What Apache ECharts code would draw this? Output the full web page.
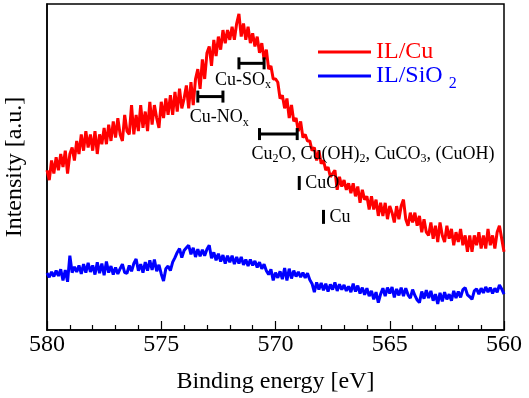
<!DOCTYPE html>
<html>
<head>
<meta charset="utf-8">
<script src="https://cdn.jsdelivr.net/npm/echarts@6/dist/echarts.min.js"></script>
<style>
  html, body { margin: 0; padding: 0; background: #fff; }
  #main { width: 529px; height: 398px; }
</style>
</head>
<body>
<div id="main"></div>
<script>
// spectra sampled every 0.1 eV from 580.0 down to 560.0 (arbitrary units)
const ilCu = [
  49, 46, 52, 48, 53, 49, 54, 50, 55, 48, 54,
  56, 52, 58, 54, 60, 55, 61, 56, 60, 55,
  61, 54, 60, 57, 62, 57, 63, 58, 64, 59,
  65, 60, 58, 66, 61, 60, 69, 60, 66, 61,
  69, 62, 67, 61, 70, 63, 69, 65, 62, 70,
  65, 71, 66, 72, 66, 73, 67, 74, 68, 71,
  75, 68, 76, 69, 77, 80, 74, 83, 77, 85,
  87, 81, 89, 84, 90, 86, 92, 88, 92, 89,
  93, 89, 94, 97, 90, 94, 89, 93, 88, 91,
  87, 90, 85, 88, 83, 86, 80, 81, 77, 77,
  76, 71, 72, 68, 71, 65, 69, 64, 65, 61,
  64, 59, 60, 58, 58, 55, 56, 52, 55, 51,
  52, 49, 50, 47, 48, 49, 43, 47, 44, 46,
  43, 45, 42, 45, 41, 44, 39, 43, 40, 41,
  37, 41, 37, 40, 35, 39, 35, 39, 34, 38,
  36, 33, 38, 34, 38, 40, 34, 32, 36, 33,
  36, 32, 35, 30, 34, 30, 29, 33, 28, 32,
  27, 33, 29, 27, 32, 28, 31, 26, 30, 27,
  31, 26, 29, 24, 29, 24, 29, 26, 30, 25,
  29, 25, 31, 26, 29, 25, 30, 32, 28, 24
]
const ilSiO2 = [
  17.5, 16.2, 17.8, 16.4, 18.2, 16.6, 18.6, 15.2, 18.4, 14.8,
  22.8, 17.6, 19.4, 17.8, 19.8, 17.2, 20.2, 17.6, 20.6, 17.8,
  19.8, 17.0, 20.8, 17.4, 20.4, 16.8, 21.0, 17.6, 19.6, 17.0,
  19.2, 17.2, 18.8, 20.2, 17.6, 17.4, 19.8, 18.0, 20.4, 21.8,
  18.2, 20.2, 17.6, 20.8, 18.2, 21.4, 18.4, 21.6, 18.0, 20.0,
  17.2, 15.0, 18.8, 19.6, 18.2, 20.8, 22.2, 23.8, 25.0, 22.2,
  24.4, 25.2, 26.0, 23.2, 25.2, 22.4, 24.8, 22.6, 24.6, 22.8,
  24.8, 26.0, 22.0, 23.8, 21.4, 23.4, 21.0, 23.0, 20.4, 22.8,
  20.8, 22.8, 20.2, 22.4, 20.4, 22.4, 20.0, 21.6, 19.6, 21.6,
  19.8, 21.2, 19.2, 20.8, 18.8, 20.2, 18.2, 17.0, 18.6, 15.2,
  17.6, 16.0, 18.0, 15.6, 19.0, 15.2, 18.8, 15.8, 18.2, 16.4,
  17.8, 16.2, 17.6, 16.0, 17.4, 15.4, 14.2, 11.6, 14.6, 12.4,
  14.4, 12.2, 14.2, 11.8, 14.0, 12.4, 14.6, 12.0, 14.0, 12.4,
  13.8, 12.0, 13.4, 11.6, 14.2, 11.8, 13.6, 11.2, 13.0, 10.8,
  12.8, 10.4, 12.0, 9.4, 11.6, 8.4, 11.0, 12.8, 10.4, 13.0,
  11.2, 13.2, 10.0, 12.6, 10.6, 13.0, 10.4, 12.8, 10.8, 9.8,
  12.4, 10.6, 9.2, 8.4, 11.8, 9.6, 12.2, 9.8, 12.0, 9.0,
  11.0, 8.0, 11.4, 8.8, 11.6, 9.4, 11.0, 9.0, 12.0, 9.8,
  11.8, 10.0, 12.4, 13.0, 10.8, 10.2, 9.4, 12.0, 12.6, 11.0,
  12.8, 11.4, 13.2, 11.6, 13.0, 11.2, 12.8, 11.6, 13.8, 12.6,
  11.0
]
const energy = ilCu.map((_, i) => +(580 - i * 0.1).toFixed(1))

// peak assignments: energy range (high/low side) and height of the marker
const annoLabels = ['Cu-SO{s|x}', 'Cu-NO{s|x}', 'Cu{s|2}O, Cu(OH){s|2}, CuCO{s|3}, (CuOH)', 'CuO', 'Cu']
const annoFrom = [571.6, 573.4, 570.7, 568.96, 567.9]
const annoTo = [570.5, 572.3, 569.05, 568.96, 567.9]
const annoY = [81.8, 71.6, 60.1, 45.1, 34.7]

const xTicks = [560, 565, 570, 575, 580]

const font = 'Liberation Serif, Times New Roman, serif'
const labelOffsets = [[-24, 17], [-8, 21], [-8, 20], [6, 0], [6, 0]]

function renderAnno(params, api) {
  const i = params.dataIndex
  const a = api.coord([api.value(0), api.value(2)])
  const b = api.coord([api.value(1), api.value(2)])
  const children = []
  const stroke = { stroke: '#000', lineWidth: 3 }
  if (Math.abs(a[0] - b[0]) > 1) {
    const l = Math.min(a[0], b[0])
    const r = Math.max(a[0], b[0])
    children.push({ type: 'line', shape: { x1: l, y1: a[1], x2: r, y2: a[1] }, style: stroke })
    children.push({ type: 'line', shape: { x1: l, y1: a[1] - 6, x2: l, y2: a[1] + 6 }, style: stroke })
    children.push({ type: 'line', shape: { x1: r, y1: a[1] - 6, x2: r, y2: a[1] + 6 }, style: stroke })
    children.push({
      type: 'text',
      style: {
        x: l + labelOffsets[i][0], y: a[1] + labelOffsets[i][1],
        text: annoLabels[i], align: 'left', verticalAlign: 'middle',
        fontFamily: font, fontSize: 18, fill: '#000', lineHeight: 22,
        rich: { s: { fontFamily: font, fontSize: 12, fill: '#000', verticalAlign: 'bottom' } }
      }
    })
  } else {
    children.push({ type: 'line', shape: { x1: a[0], y1: a[1] - 7, x2: a[0], y2: a[1] + 7 }, style: stroke })
    children.push({
      type: 'text',
      style: {
        x: a[0] + labelOffsets[i][0], y: a[1] + labelOffsets[i][1],
        text: annoLabels[i], align: 'left', verticalAlign: 'middle',
        fontFamily: font, fontSize: 18, fill: '#000'
      }
    })
  }
  return { type: 'group', children }
}

const chart = echarts.init(document.getElementById('main'))
chart.setOption({
  animation: false,
  grid: {
    left: 47, right: 25, top: 4, bottom: 68, outerBoundsMode: 'none',
    show: true, borderColor: '#000', borderWidth: 1.5
  },
  legend: {
    orient: 'vertical', left: 313, top: 35, itemWidth: 53, itemHeight: 3, itemGap: 0,
    icon: 'rect',
    data: [
      { name: 'IL/Cu', textStyle: { color: '#ff0000' } },
      { name: 'IL/SiO2', textStyle: { color: '#0000ff' } }
    ],
    formatter: name => name === 'IL/SiO2' ? 'IL/SiO {s|2}' : name,
    textStyle: {
      fontFamily: font, fontSize: 24, lineHeight: 20,
      rich: { s: { fontFamily: font, fontSize: 16, verticalAlign: 'bottom', padding: [0, 0, -6, 0] } }
    }
  },
  xAxis: {
    type: 'value', inverse: true, min: 560, max: 580, interval: 5,
    name: 'Binding energy [eV]', nameLocation: 'middle', nameGap: 40,
    nameTextStyle: { fontFamily: font, fontSize: 24, color: '#000' },
    axisLine: { lineStyle: { color: '#000', width: 1.5 } },
    axisTick: { inside: true, length: 9, lineStyle: { color: '#000', width: 1.2 } },
    minorTick: { show: true, splitNumber: 5, length: 5, lineStyle: { color: '#000', width: 1.2 } },
    splitLine: { show: false },
    axisLabel: {
      fontFamily: font, fontSize: 24, color: '#000', margin: 3,
      customValues: xTicks, formatter: v => String(v)
    }
  },
  yAxis: {
    type: 'value', min: 0, max: 100,
    name: 'Intensity [a.u.]', nameLocation: 'middle', nameGap: 20,
    nameTextStyle: { fontFamily: font, fontSize: 24, color: '#000' },
    axisLine: { show: true, lineStyle: { color: '#000', width: 1.5 } },
    axisTick: { show: false },
    axisLabel: { show: false },
    splitLine: { show: false }
  },
  series: [
    {
      name: 'IL/Cu', type: 'line', symbol: 'none', color: '#ff0000',
      lineStyle: { width: 3, color: '#ff0000' },
      data: energy.map((e, i) => [e, ilCu[i]])
    },
    {
      name: 'IL/SiO2', type: 'line', symbol: 'none', color: '#0000ff',
      lineStyle: { width: 3, color: '#0000ff' },
      data: energy.map((e, i) => [e, ilSiO2[i]])
    },
    {
      type: 'custom', renderItem: renderAnno, silent: true, z: 5,
      data: annoLabels.map((_, i) => [annoFrom[i], annoTo[i], annoY[i]])
    }
  ]
})
</script>
</body>
</html>
